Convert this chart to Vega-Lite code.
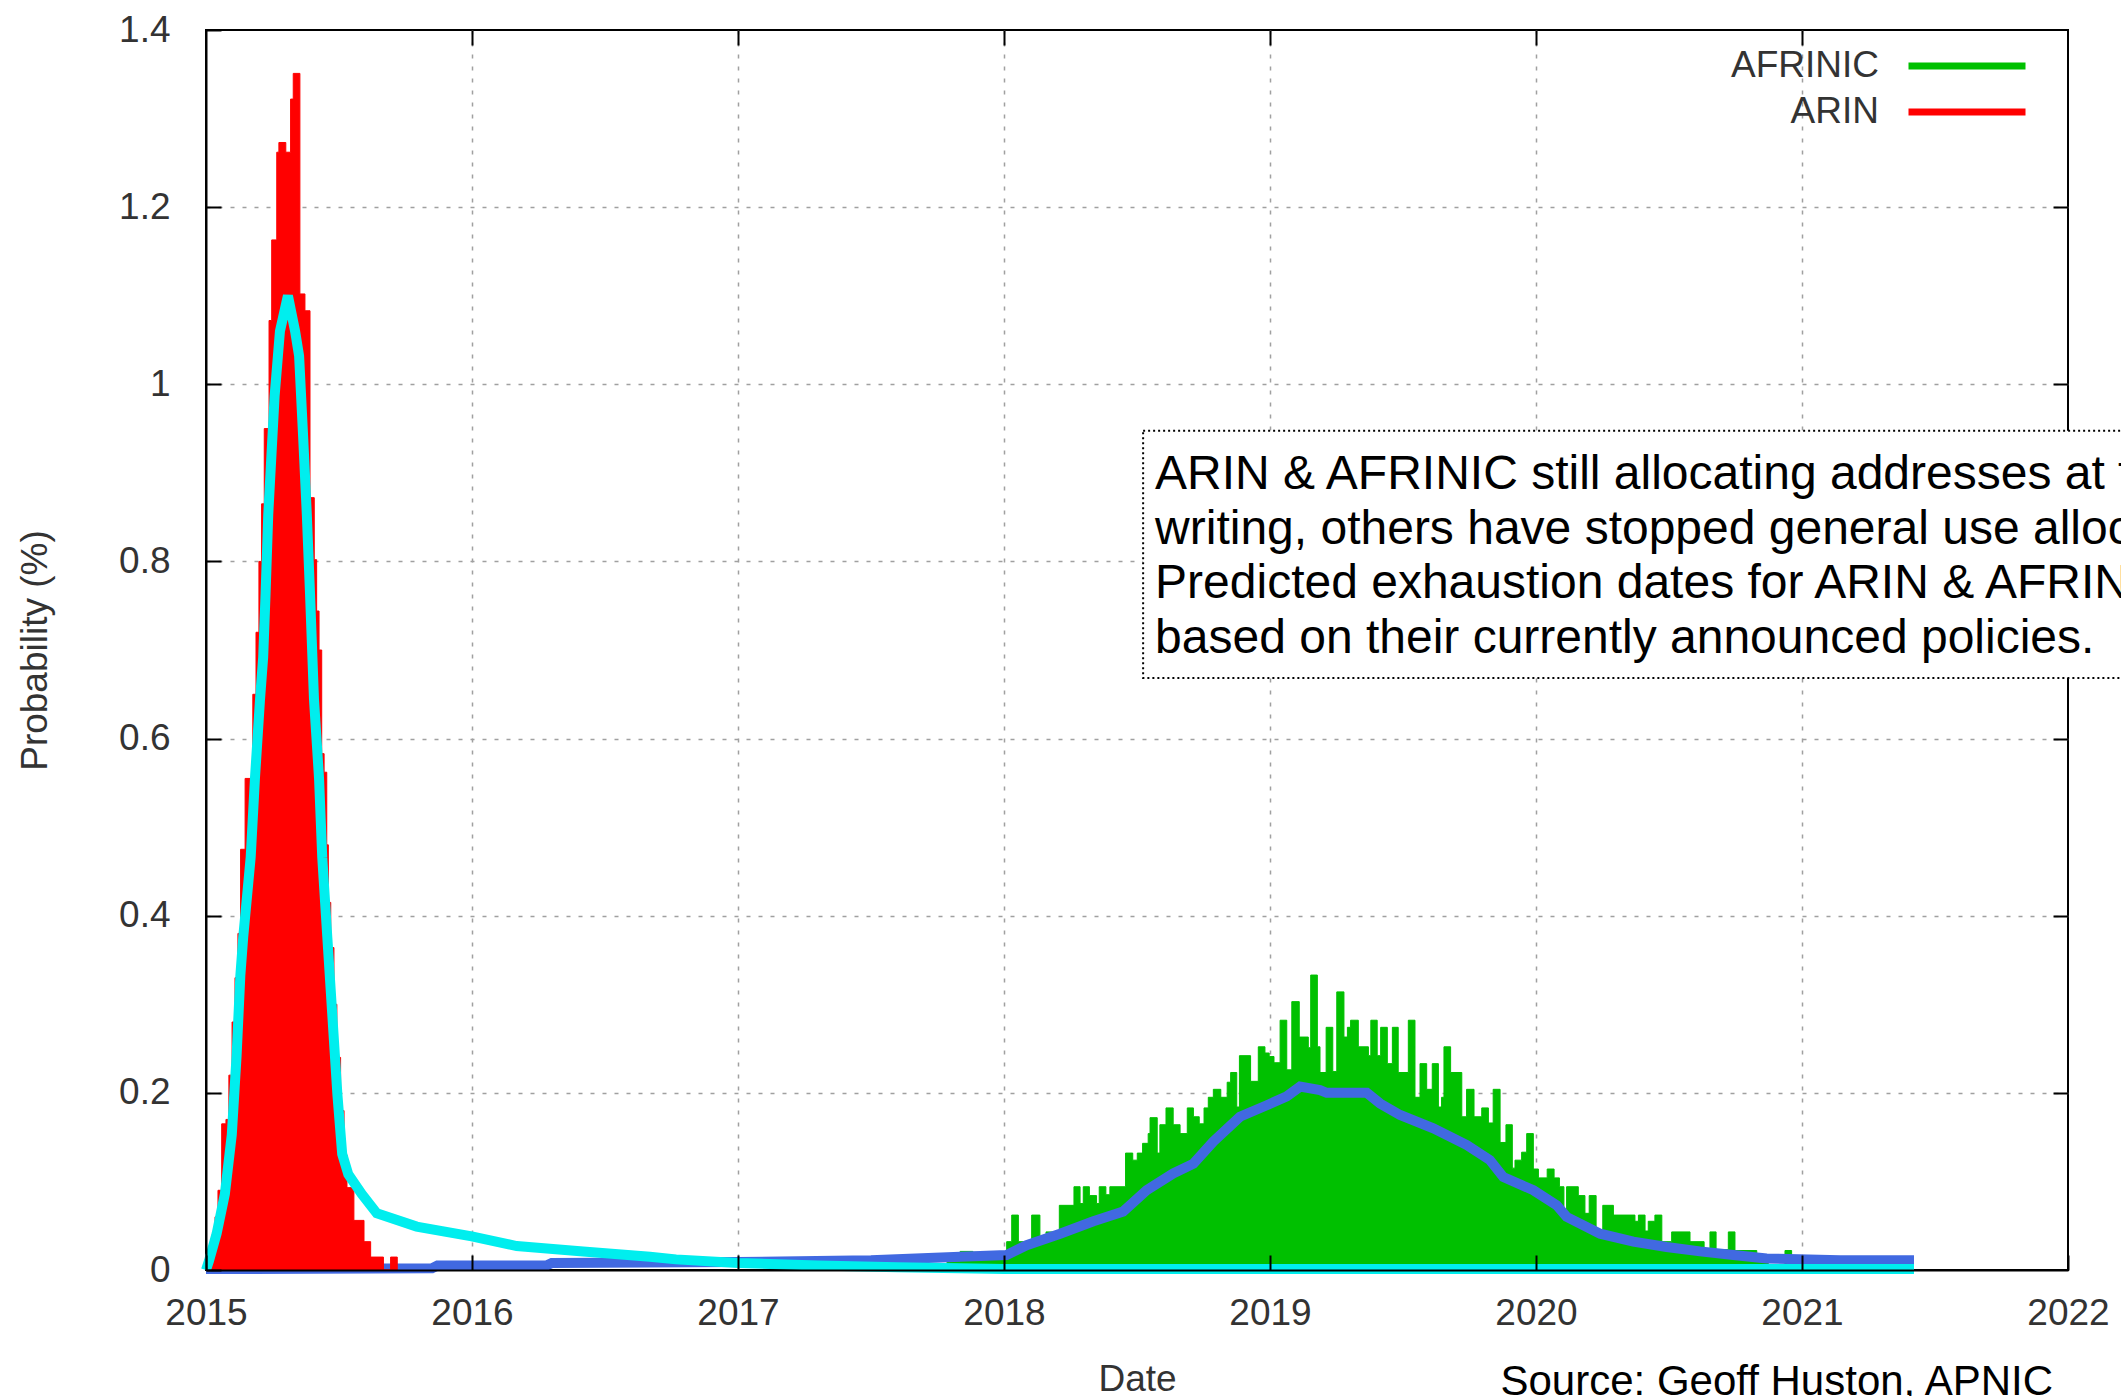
{
  "$schema": "https://vega.github.io/schema/vega-lite/v6.json",
  "width": 1862,
  "height": 1240,
  "autosize": {"type": "none"},
  "padding": {"left": 206, "top": 30, "right": 53, "bottom": 126},
  "background": "white",
  "config": {
    "view": {"stroke": "#000", "strokeWidth": 2},
    "font": "Liberation Sans",
    "axis": {
      "labelFont": "Liberation Sans", "titleFont": "Liberation Sans",
      "labelFontSize": 37, "titleFontSize": 37,
      "labelColor": "#333", "titleColor": "#333", "titleFontWeight": "normal",
      "labelFlush": false, "labelOverlap": false
    },
    "legend": {
      "title": null, "orient": "none", "legendX": 1738, "legendY": 13, "direction": "vertical",
      "symbolType": "M-3,0H3", "symbolSize": 1521, "symbolStrokeWidth": 7, "symbolOpacity": 1,
      "labelAlign": "right", "labelOffset": -111, "labelFont": "Liberation Sans", "labelFontSize": 37,
      "labelColor": "#333", "labelLimit": 0, "rowPadding": 5, "padding": 0
    }
  },
  "title": {
    "text": "Source: Geoff Huston, APNIC",
    "orient": "bottom", "anchor": "end", "frame": "group",
    "font": "Liberation Sans", "fontSize": 42, "fontWeight": "normal",
    "color": "#000", "offset": -35, "dx": -15
  },
  "datasets": {
    "arin_hist": [
      {"year": 2015.000, "prob": 0.01}, {"year": 2015.011, "prob": 0.02}, {"year": 2015.023, "prob": 0.04},
      {"year": 2015.034, "prob": 0.06}, {"year": 2015.045, "prob": 0.09}, {"year": 2015.059, "prob": 0.165},
      {"year": 2015.075, "prob": 0.17}, {"year": 2015.086, "prob": 0.22}, {"year": 2015.098, "prob": 0.28},
      {"year": 2015.109, "prob": 0.33}, {"year": 2015.120, "prob": 0.38}, {"year": 2015.130, "prob": 0.475},
      {"year": 2015.147, "prob": 0.555}, {"year": 2015.176, "prob": 0.65}, {"year": 2015.188, "prob": 0.72},
      {"year": 2015.199, "prob": 0.80}, {"year": 2015.209, "prob": 0.865}, {"year": 2015.219, "prob": 0.95},
      {"year": 2015.237, "prob": 1.072}, {"year": 2015.247, "prob": 1.163}, {"year": 2015.266, "prob": 1.262},
      {"year": 2015.274, "prob": 1.273}, {"year": 2015.300, "prob": 1.262}, {"year": 2015.318, "prob": 1.322},
      {"year": 2015.328, "prob": 1.351}, {"year": 2015.353, "prob": 1.102}, {"year": 2015.372, "prob": 1.083},
      {"year": 2015.391, "prob": 0.872}, {"year": 2015.407, "prob": 0.802}, {"year": 2015.416, "prob": 0.744},
      {"year": 2015.425, "prob": 0.70}, {"year": 2015.435, "prob": 0.583}, {"year": 2015.444, "prob": 0.562},
      {"year": 2015.454, "prob": 0.48}, {"year": 2015.460, "prob": 0.415}, {"year": 2015.469, "prob": 0.364},
      {"year": 2015.481, "prob": 0.30}, {"year": 2015.492, "prob": 0.24}, {"year": 2015.506, "prob": 0.18},
      {"year": 2015.519, "prob": 0.13}, {"year": 2015.530, "prob": 0.093}, {"year": 2015.556, "prob": 0.056},
      {"year": 2015.594, "prob": 0.032}, {"year": 2015.619, "prob": 0.0146}, {"year": 2015.667, "prob": 0},
      {"year": 2015.694, "prob": 0.0146}, {"year": 2015.719, "prob": 0}
    ],
    "afrinic_hist": [
      {"year": 2017.786, "prob": 0.010}, {"year": 2017.835, "prob": 0.021}, {"year": 2017.883, "prob": 0.020},
      {"year": 2018.010, "prob": 0.032}, {"year": 2018.029, "prob": 0.062}, {"year": 2018.054, "prob": 0.032},
      {"year": 2018.104, "prob": 0.062}, {"year": 2018.135, "prob": 0.032}, {"year": 2018.158, "prob": 0.043},
      {"year": 2018.208, "prob": 0.073}, {"year": 2018.263, "prob": 0.094}, {"year": 2018.286, "prob": 0.075},
      {"year": 2018.298, "prob": 0.094}, {"year": 2018.321, "prob": 0.084}, {"year": 2018.348, "prob": 0.075},
      {"year": 2018.358, "prob": 0.094}, {"year": 2018.383, "prob": 0.085}, {"year": 2018.398, "prob": 0.094},
      {"year": 2018.457, "prob": 0.132}, {"year": 2018.484, "prob": 0.124}, {"year": 2018.501, "prob": 0.132},
      {"year": 2018.521, "prob": 0.143}, {"year": 2018.542, "prob": 0.154}, {"year": 2018.549, "prob": 0.172},
      {"year": 2018.576, "prob": 0.132}, {"year": 2018.586, "prob": 0.164}, {"year": 2018.609, "prob": 0.183},
      {"year": 2018.636, "prob": 0.164}, {"year": 2018.662, "prob": 0.154}, {"year": 2018.689, "prob": 0.183},
      {"year": 2018.712, "prob": 0.173}, {"year": 2018.734, "prob": 0.165}, {"year": 2018.752, "prob": 0.183},
      {"year": 2018.768, "prob": 0.195}, {"year": 2018.787, "prob": 0.204}, {"year": 2018.815, "prob": 0.195},
      {"year": 2018.839, "prob": 0.212}, {"year": 2018.852, "prob": 0.223}, {"year": 2018.875, "prob": 0.184},
      {"year": 2018.885, "prob": 0.242}, {"year": 2018.927, "prob": 0.213}, {"year": 2018.956, "prob": 0.252},
      {"year": 2018.981, "prob": 0.245}, {"year": 2018.997, "prob": 0.241}, {"year": 2019.015, "prob": 0.234},
      {"year": 2019.038, "prob": 0.282}, {"year": 2019.063, "prob": 0.226}, {"year": 2019.082, "prob": 0.303},
      {"year": 2019.110, "prob": 0.263}, {"year": 2019.144, "prob": 0.251}, {"year": 2019.153, "prob": 0.333},
      {"year": 2019.178, "prob": 0.252}, {"year": 2019.188, "prob": 0.223}, {"year": 2019.211, "prob": 0.274},
      {"year": 2019.236, "prob": 0.224}, {"year": 2019.251, "prob": 0.314}, {"year": 2019.278, "prob": 0.263},
      {"year": 2019.291, "prob": 0.274}, {"year": 2019.303, "prob": 0.282}, {"year": 2019.332, "prob": 0.252},
      {"year": 2019.370, "prob": 0.242}, {"year": 2019.379, "prob": 0.282}, {"year": 2019.403, "prob": 0.242},
      {"year": 2019.416, "prob": 0.274}, {"year": 2019.441, "prob": 0.233}, {"year": 2019.460, "prob": 0.274},
      {"year": 2019.482, "prob": 0.223}, {"year": 2019.520, "prob": 0.282}, {"year": 2019.545, "prob": 0.195},
      {"year": 2019.564, "prob": 0.233}, {"year": 2019.589, "prob": 0.204}, {"year": 2019.610, "prob": 0.233},
      {"year": 2019.633, "prob": 0.184}, {"year": 2019.645, "prob": 0.195}, {"year": 2019.654, "prob": 0.252},
      {"year": 2019.679, "prob": 0.223}, {"year": 2019.721, "prob": 0.173}, {"year": 2019.739, "prob": 0.204},
      {"year": 2019.767, "prob": 0.173}, {"year": 2019.796, "prob": 0.183}, {"year": 2019.821, "prob": 0.166},
      {"year": 2019.839, "prob": 0.204}, {"year": 2019.865, "prob": 0.144}, {"year": 2019.887, "prob": 0.164},
      {"year": 2019.911, "prob": 0.115}, {"year": 2019.921, "prob": 0.124}, {"year": 2019.946, "prob": 0.133},
      {"year": 2019.965, "prob": 0.154}, {"year": 2019.990, "prob": 0.114}, {"year": 2020.009, "prob": 0.104},
      {"year": 2020.042, "prob": 0.114}, {"year": 2020.068, "prob": 0.104}, {"year": 2020.088, "prob": 0.094},
      {"year": 2020.105, "prob": 0.064}, {"year": 2020.115, "prob": 0.094}, {"year": 2020.159, "prob": 0.084},
      {"year": 2020.184, "prob": 0.064}, {"year": 2020.200, "prob": 0.084}, {"year": 2020.226, "prob": 0.044},
      {"year": 2020.251, "prob": 0.073}, {"year": 2020.291, "prob": 0.062}, {"year": 2020.372, "prob": 0.055},
      {"year": 2020.385, "prob": 0.062}, {"year": 2020.410, "prob": 0.044}, {"year": 2020.422, "prob": 0.055},
      {"year": 2020.447, "prob": 0.062}, {"year": 2020.473, "prob": 0.032}, {"year": 2020.510, "prob": 0.043},
      {"year": 2020.579, "prob": 0.032}, {"year": 2020.632, "prob": 0.023}, {"year": 2020.654, "prob": 0.043},
      {"year": 2020.677, "prob": 0.023}, {"year": 2020.723, "prob": 0.043}, {"year": 2020.748, "prob": 0.022},
      {"year": 2020.830, "prob": 0.012}, {"year": 2020.873, "prob": 0.005}, {"year": 2020.936, "prob": 0.022},
      {"year": 2020.961, "prob": 0.004}, {"year": 2020.992, "prob": 0}
    ],
    "afrinic_smooth": [
      {"year": 2015.000, "prob": 0.001}, {"year": 2015.850, "prob": 0.002}, {"year": 2015.870, "prob": 0.005},
      {"year": 2016.280, "prob": 0.005}, {"year": 2016.300, "prob": 0.008}, {"year": 2017.000, "prob": 0.009},
      {"year": 2017.500, "prob": 0.011}, {"year": 2017.835, "prob": 0.015}, {"year": 2018.010, "prob": 0.017},
      {"year": 2018.085, "prob": 0.028}, {"year": 2018.211, "prob": 0.041}, {"year": 2018.336, "prob": 0.055},
      {"year": 2018.448, "prob": 0.066}, {"year": 2018.536, "prob": 0.090}, {"year": 2018.636, "prob": 0.109},
      {"year": 2018.712, "prob": 0.120}, {"year": 2018.787, "prob": 0.145}, {"year": 2018.887, "prob": 0.173},
      {"year": 2018.988, "prob": 0.186}, {"year": 2019.063, "prob": 0.196}, {"year": 2019.113, "prob": 0.207},
      {"year": 2019.188, "prob": 0.203}, {"year": 2019.213, "prob": 0.200}, {"year": 2019.364, "prob": 0.200},
      {"year": 2019.414, "prob": 0.188}, {"year": 2019.489, "prob": 0.175}, {"year": 2019.614, "prob": 0.160},
      {"year": 2019.740, "prob": 0.141}, {"year": 2019.827, "prob": 0.124}, {"year": 2019.877, "prob": 0.105},
      {"year": 2019.990, "prob": 0.090}, {"year": 2020.078, "prob": 0.073}, {"year": 2020.115, "prob": 0.060},
      {"year": 2020.241, "prob": 0.041}, {"year": 2020.366, "prob": 0.032}, {"year": 2020.491, "prob": 0.026},
      {"year": 2020.617, "prob": 0.021}, {"year": 2020.742, "prob": 0.017}, {"year": 2020.867, "prob": 0.013},
      {"year": 2021.143, "prob": 0.011}, {"year": 2021.421, "prob": 0.011}
    ],
    "arin_smooth": [
      {"year": 2015.000, "prob": 0.000}, {"year": 2015.011, "prob": 0.010}, {"year": 2015.040, "prob": 0.041},
      {"year": 2015.071, "prob": 0.086}, {"year": 2015.097, "prob": 0.153}, {"year": 2015.115, "prob": 0.242},
      {"year": 2015.129, "prob": 0.332}, {"year": 2015.140, "prob": 0.376}, {"year": 2015.168, "prob": 0.466},
      {"year": 2015.184, "prob": 0.555}, {"year": 2015.203, "prob": 0.644}, {"year": 2015.215, "prob": 0.692},
      {"year": 2015.224, "prob": 0.764}, {"year": 2015.234, "prob": 0.853}, {"year": 2015.258, "prob": 0.987},
      {"year": 2015.278, "prob": 1.060}, {"year": 2015.308, "prob": 1.100}, {"year": 2015.335, "prob": 1.060},
      {"year": 2015.350, "prob": 1.032}, {"year": 2015.365, "prob": 0.942}, {"year": 2015.379, "prob": 0.853},
      {"year": 2015.391, "prob": 0.764}, {"year": 2015.400, "prob": 0.692}, {"year": 2015.406, "prob": 0.644},
      {"year": 2015.425, "prob": 0.555}, {"year": 2015.437, "prob": 0.466}, {"year": 2015.456, "prob": 0.376},
      {"year": 2015.475, "prob": 0.287}, {"year": 2015.494, "prob": 0.198}, {"year": 2015.512, "prob": 0.131},
      {"year": 2015.535, "prob": 0.108}, {"year": 2015.585, "prob": 0.086}, {"year": 2015.642, "prob": 0.064},
      {"year": 2015.792, "prob": 0.049}, {"year": 2015.999, "prob": 0.038}, {"year": 2016.168, "prob": 0.027},
      {"year": 2016.418, "prob": 0.021}, {"year": 2016.669, "prob": 0.015}, {"year": 2016.767, "prob": 0.012},
      {"year": 2017.000, "prob": 0.008}, {"year": 2017.300, "prob": 0.005}, {"year": 2017.600, "prob": 0.003},
      {"year": 2018.000, "prob": 0.001}, {"year": 2021.421, "prob": 0.001}
    ]
  },
  "resolve": {"axis": {"x": "independent", "y": "independent"}},
  "layer": [
    {
      "data": {"name": "afrinic_hist"},
      "mark": {"type": "area", "interpolate": "step-after", "opacity": 1, "strokeWidth": 1},
      "encoding": {
        "x": {"field": "year", "type": "quantitative",
          "scale": {"domain": [2015, 2022], "nice": false, "zero": false},
          "axis": {"orient": "bottom", "grid": true, "gridColor": "#a0a0a0", "gridDash": [4, 8], "gridWidth": 1.5,
            "domain": false, "ticks": false, "labels": false, "title": null,
            "values": [2016, 2017, 2018, 2019, 2020, 2021], "zindex": 0}},
        "y": {"field": "prob", "type": "quantitative", "stack": null,
          "scale": {"domain": [0, 1.4], "nice": false, "zero": true},
          "axis": {"orient": "left", "grid": true, "gridColor": "#a0a0a0", "gridDash": [4, 8], "gridWidth": 1.5,
            "domain": false, "ticks": false, "labels": false, "title": null,
            "values": [0.2, 0.4, 0.6, 0.8, 1, 1.2], "zindex": 0}},
        "fill": {"datum": "AFRINIC", "type": "nominal",
          "scale": {"domain": ["AFRINIC", "ARIN"], "range": ["#00c000", "#ff0000"]}},
        "stroke": {"datum": "AFRINIC", "type": "nominal",
          "scale": {"domain": ["AFRINIC", "ARIN"], "range": ["#00c000", "#ff0000"]}}
      }
    },
    {
      "data": {"name": "afrinic_smooth"},
      "mark": {"type": "line", "color": "#4169e1", "strokeWidth": 10},
      "encoding": {
        "x": {"field": "year", "type": "quantitative",
          "scale": {"domain": [2015, 2022], "nice": false, "zero": false},
          "axis": {"orient": "top", "grid": false, "domain": false, "ticks": true, "tickSize": -15, "tickWidth": 2,
            "tickColor": "#000", "labels": false, "title": null,
            "values": [2016, 2017, 2018, 2019, 2020, 2021], "zindex": 0}},
        "y": {"field": "prob", "type": "quantitative",
          "scale": {"domain": [0, 1.4], "nice": false, "zero": true},
          "axis": {"orient": "right", "grid": false, "domain": false, "ticks": true, "tickSize": -15, "tickWidth": 2,
            "tickColor": "#000", "labels": false, "title": null,
            "values": [0.2, 0.4, 0.6, 0.8, 1, 1.2], "zindex": 0}}
      }
    },
    {
      "data": {"name": "arin_hist"},
      "mark": {"type": "area", "interpolate": "step-after", "opacity": 1, "strokeWidth": 1},
      "encoding": {
        "x": {"field": "year", "type": "quantitative",
          "scale": {"domain": [2015, 2022], "nice": false, "zero": false}, "axis": null},
        "y": {"field": "prob", "type": "quantitative", "stack": null,
          "scale": {"domain": [0, 1.4], "nice": false, "zero": true}, "axis": null},
        "fill": {"datum": "ARIN", "type": "nominal",
          "scale": {"domain": ["AFRINIC", "ARIN"], "range": ["#00c000", "#ff0000"]}},
        "stroke": {"datum": "ARIN", "type": "nominal",
          "scale": {"domain": ["AFRINIC", "ARIN"], "range": ["#00c000", "#ff0000"]}}
      }
    },
    {
      "data": {"name": "arin_smooth"},
      "mark": {"type": "line", "color": "#00eeee", "strokeWidth": 10},
      "encoding": {
        "x": {"field": "year", "type": "quantitative",
          "scale": {"domain": [2015, 2022], "nice": false, "zero": false},
          "axis": {"orient": "bottom", "grid": false, "domain": true, "domainColor": "#000", "domainWidth": 2,
            "ticks": true, "tickSize": -15, "tickWidth": 2, "tickColor": "#000",
            "labels": true, "labelPadding": 40, "format": "d",
            "values": [2015, 2016, 2017, 2018, 2019, 2020, 2021, 2022],
            "title": "Date", "titlePadding": 30, "zindex": 1}},
        "y": {"field": "prob", "type": "quantitative",
          "scale": {"domain": [0, 1.4], "nice": false, "zero": true},
          "axis": {"orient": "left", "grid": false, "domain": true, "domainColor": "#000", "domainWidth": 2,
            "ticks": true, "tickSize": -15, "tickWidth": 2, "tickColor": "#000",
            "labels": true, "labelPadding": 51, "format": "~g",
            "values": [0, 0.2, 0.4, 0.6, 0.8, 1, 1.2, 1.4],
            "title": "Probability (%)", "titlePadding": 64, "zindex": 1}}
      }
    },
    {
      "data": {"values": [{}]},
      "mark": {"type": "rect", "fill": "#fff", "stroke": "#000", "strokeWidth": 2, "strokeDash": [2, 3]},
      "encoding": {
        "x": {"datum": 2018.523, "type": "quantitative",
          "scale": {"domain": [2015, 2022], "nice": false, "zero": false}, "axis": null},
        "x2": {"datum": 2022.6},
        "y": {"datum": 0.9476, "type": "quantitative",
          "scale": {"domain": [0, 1.4], "nice": false, "zero": true}, "axis": null},
        "y2": {"datum": 0.6684}
      }
    },
    {
      "data": {"values": [{}]},
      "mark": {"type": "text",
        "text": ["ARIN & AFRINIC still allocating addresses at the time of",
                 "writing, others have stopped general use allocations.",
                 "Predicted exhaustion dates for ARIN & AFRINIC are",
                 "based on their currently announced policies."],
        "font": "Liberation Sans", "fontSize": 48, "color": "#000",
        "align": "left", "baseline": "alphabetic", "lineHeight": 54.5},
      "encoding": {
        "x": {"datum": 2018.568, "type": "quantitative",
          "scale": {"domain": [2015, 2022], "nice": false, "zero": false}, "axis": null},
        "y": {"datum": 0.8813, "type": "quantitative",
          "scale": {"domain": [0, 1.4], "nice": false, "zero": true}, "axis": null}
      }
    }
  ]
}
